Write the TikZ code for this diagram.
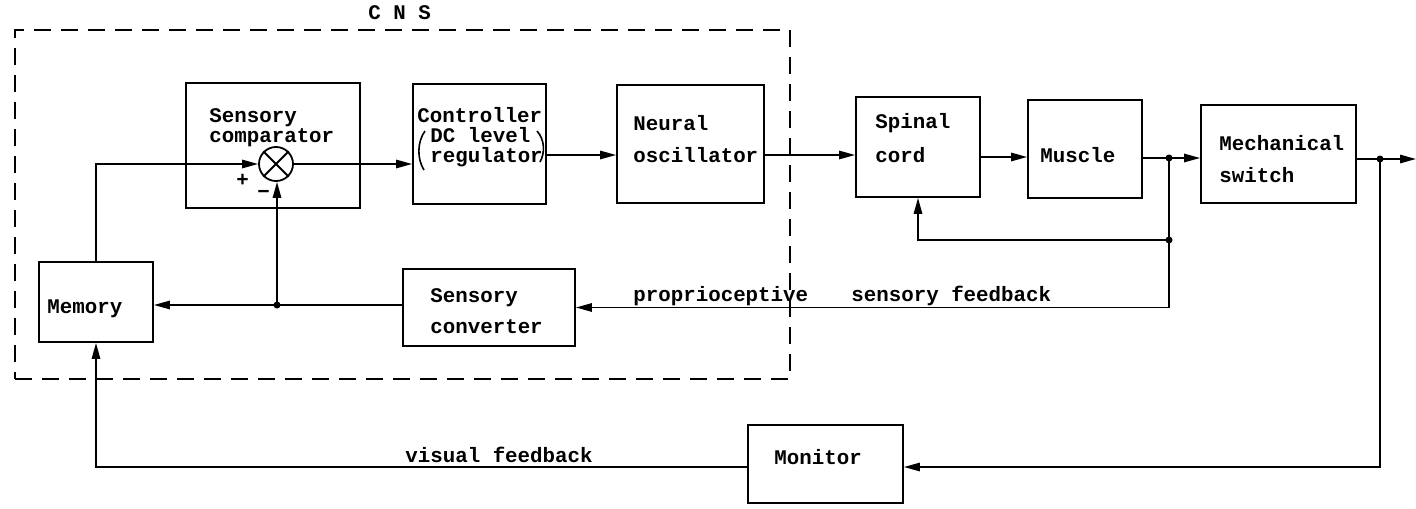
\documentclass[tikz,border=0pt]{standalone}
\usepackage{fontspec}
\setmonofont{Liberation Mono}
\usetikzlibrary{arrows.meta,fit}
\begin{document}
\begin{tikzpicture}[x=0.5pt,y=-0.5pt,
  box/.style={draw,line width=0.9pt,inner sep=0pt},
  cnsbox/.style={draw,line width=0.8pt,inner sep=0pt,dash pattern=on 8.5pt off 5pt},
  txt/.style={anchor=base west,inner sep=0pt,font=\ttfamily\bfseries\fontsize{10.4}{12}\selectfont},
  conn/.style={line width=0.85pt,-{Triangle[length=8pt,width=4.2pt]}},
  wire/.style={line width=0.85pt},
  dot/.style={circle,fill,inner sep=0pt,minimum size=3.5pt}]
\useasboundingbox (0,0) rectangle (1416,508);
% CNS frame
\coordinate (c1) at (15,30); \coordinate (c2) at (790,379);
\node[cnsbox,fit=(c1)(c2)] (cns) {};
\node[txt] (cnst) at (368,20) {C N S};
% boxes
\coordinate (a1) at (186,83);  \coordinate (a2) at (360,208);  \node[box,fit=(a1)(a2)] (cmp) {};
\coordinate (b1) at (413,84);  \coordinate (b2) at (546,204);  \node[box,fit=(b1)(b2)] (ctl) {};
\coordinate (d1) at (617,85);  \coordinate (d2) at (764,203);  \node[box,fit=(d1)(d2)] (osc) {};
\coordinate (e1) at (856,97);  \coordinate (e2) at (980,197);  \node[box,fit=(e1)(e2)] (spn) {};
\coordinate (f1) at (1028,100);\coordinate (f2) at (1142,198); \node[box,fit=(f1)(f2)] (msc) {};
\coordinate (g1) at (1201,105);\coordinate (g2) at (1356,203); \node[box,fit=(g1)(g2)] (sw) {};
\coordinate (h1) at (39,262);  \coordinate (h2) at (153,342);  \node[box,fit=(h1)(h2)] (mem) {};
\coordinate (k1) at (403,269); \coordinate (k2) at (575,346);  \node[box,fit=(k1)(k2)] (cnv) {};
\coordinate (m1) at (748,425); \coordinate (m2) at (903,503);  \node[box,fit=(m1)(m2)] (mon) {};
% summing junction
\node[draw,circle,line width=0.9pt,minimum size=17pt,inner sep=0pt] (sum) at (276,164) {};
\draw[line width=0.9pt] (sum.north west) -- (sum.south east) (sum.north east) -- (sum.south west);
% texts
\node[txt] (t1) at (209,122) {Sensory};
\node[txt] (t2) at (209,142) {comparator};
\node[txt] (t3) at (417,122) {Controller};
\node[txt] (t4) at (430,142) {DC level};
\node[txt] (t5) at (430,162) {regulator};
\draw[line width=0.8pt] (425,131) .. controls (417,142) and (417,159) .. (424,170);
\draw[line width=0.8pt] (537,131) .. controls (545,140) and (545,153) .. (540,162);
\node[txt] (t6) at (633,130) {Neural};
\node[txt] (t7) at (633,162) {oscillator};
\node[txt] (t8) at (875,128) {Spinal};
\node[txt] (t9) at (875,162) {cord};
\node[txt] (t10) at (1040,162) {Muscle};
\node[txt] (t11) at (1219,150) {Mechanical};
\node[txt] (t12) at (1219,182) {switch};
\node[txt] (t13) at (47,313) {Memory};
\node[txt] (t14) at (430,302) {Sensory};
\node[txt] (t15) at (430,333) {converter};
\node[txt] (t16) at (774,464) {Monitor};
\node[txt] (t17) at (633,301) {proprioceptive};
\node[txt] (t18) at (851,301) {sensory feedback};
\node[txt] (t19) at (405,462) {visual feedback};
\node[txt] (t20) at (236,186) {+};
\node[txt] (t21) at (257,198) {\textminus};
% level coordinates and junctions
\coordinate (lvA) at (0,155);
\coordinate (lvB) at (0,157);
\coordinate (lvC) at (0,158);
\coordinate (lvM) at (0,467);
\coordinate (j1) at (1169,158);
\coordinate (j2) at (1380,159);
\coordinate (j3) at (1169,240);
\coordinate (jm) at (277,305);
\coordinate (out) at (1416,159);
% connectors
\draw[conn] (mem.north) |- (sum.west);
\draw[conn] (sum.east) -- (sum.east -| ctl.west);
\draw[conn] (ctl.east |- lvA) -- (osc.west |- lvA);
\draw[conn] (osc.east |- lvA) -- (spn.west |- lvA);
\draw[conn] (spn.east |- lvB) -- (msc.west |- lvB);
\draw[conn] (msc.east |- lvC) -- (sw.west |- lvC);
\draw[conn] (sw.east |- j2) -- (out);
\draw[wire] (j1) -- (j3);
\draw[conn] (j3) -| (spn.south);
\draw[conn] (j3) |- (cnv.east);
\draw[conn] (cnv.west |- jm) -- (mem.east |- jm);
\draw[conn] (jm) -- (jm |- sum.south);
\draw[conn] (j2) |- (mon.east |- lvM);
\draw[conn] (mon.west |- lvM) -| (mem.south);
\node[dot] (d-j1) at (j1) {};
\node[dot] (d-j2) at (j2) {};
\node[dot] (d-j3) at (j3) {};
\node[dot] (d-jm) at (jm) {};
\end{tikzpicture}
\end{document}
